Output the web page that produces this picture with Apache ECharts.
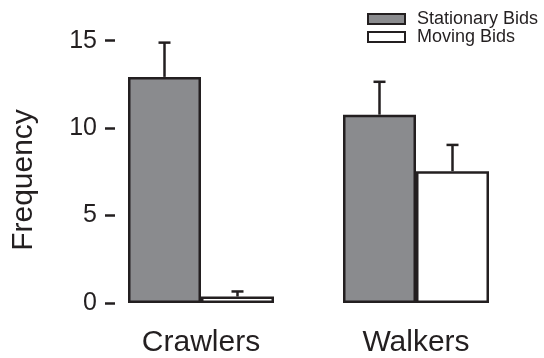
<!DOCTYPE html>
<html>
<head>
<meta charset="utf-8">
<script src="https://cdn.jsdelivr.net/npm/echarts@6/dist/echarts.min.js"></script>
<style>html,body{margin:0;padding:0;background:#fff}#c{width:544px;height:358px}</style>
</head>
<body>
<div id="c"></div>
<script>
var categories = ['Crawlers', 'Walkers'];
var stationaryMean = [12.93, 10.77];
var stationaryErr = [1.96, 1.88];
var movingMean = [0.37, 7.54];
var movingErr = [0.29, 1.50];
var yTicks = [0, 5, 10, 15];

var INK = '#231f20';
var GRAY = '#8a8b8e';
var FONT = '"Liberation Sans", Arial, Helvetica, sans-serif';
var BAR_W = 73;

function errSeries(name, means, errs, side) {
  return {
    type: 'custom',
    name: name + ' err',
    z: 1,
    silent: true,
    clip: false,
    data: means.map(function (m, i) { return [i, m, m + errs[i]]; }),
    renderItem: function (params, api) {
      var base = api.coord([api.value(0), api.value(1)]);
      var top = api.coord([api.value(0), api.value(2)]);
      var x = base[0] + side * BAR_W / 2;
      var cap = 6;
      var st = { stroke: INK, lineWidth: 2.5 };
      return {
        type: 'group',
        children: [
          { type: 'line', shape: { x1: x, y1: base[1], x2: x, y2: top[1] }, style: st },
          { type: 'line', shape: { x1: x - cap, y1: top[1], x2: x + cap, y2: top[1] }, style: st }
        ]
      };
    }
  };
}

var chart = echarts.init(document.getElementById('c'), null, { renderer: 'canvas' });
chart.setOption({
  animation: false,
  textStyle: { fontFamily: FONT, color: INK },
  grid: { left: 93.5, right: 20.5, top: 40.7, bottom: 54 },
  legend: {
    orient: 'vertical',
    left: 367,
    top: 10,
    padding: 0,
    itemWidth: 37,
    itemHeight: 10,
    itemGap: 0,
    icon: 'rect',
    data: ['Stationary Bids', 'Moving Bids'],
    textStyle: { fontSize: 18, color: INK, fontFamily: FONT, lineHeight: 18, padding: [0, 0, 0, 7] }
  },
  graphic: [{
    type: 'text',
    x: 24, y: 180,
    rotation: Math.PI / 2,
    style: {
      text: 'Frequency', fontSize: 30, fontFamily: FONT, fill: INK,
      align: 'center', verticalAlign: 'middle'
    }
  }],
  xAxis: {
    type: 'category',
    data: categories,
    axisLine: { show: false },
    axisTick: { show: false },
    axisLabel: { fontSize: 30, color: INK, fontFamily: FONT, margin: 25 }
  },
  yAxis: {
    type: 'value',
    min: 0, max: 15, interval: 5,
    offset: -21.5,
    splitLine: { show: false },
    axisLine: { show: false },
    axisTick: { show: true, length: 10, lineStyle: { color: INK, width: 2.5 } },
    axisLabel: { fontSize: 25, color: INK, fontFamily: FONT, margin: 18,
      formatter: function (v) { return yTicks.indexOf(v) >= 0 ? String(v) : ''; } }
  },
  series: [
    {
      type: 'bar', name: 'Stationary Bids', data: stationaryMean,
      barWidth: BAR_W, barGap: '0%', z: 2,
      itemStyle: { color: GRAY, borderColor: INK, borderWidth: 2.5 }
    },
    {
      type: 'bar', name: 'Moving Bids', data: movingMean,
      barWidth: BAR_W, barGap: '0%', z: 2,
      itemStyle: { color: '#ffffff', borderColor: INK, borderWidth: 2.5 }
    },
    errSeries('Stationary Bids', stationaryMean, stationaryErr, -1),
    errSeries('Moving Bids', movingMean, movingErr, 1)
  ]
});
</script>
</body>
</html>
